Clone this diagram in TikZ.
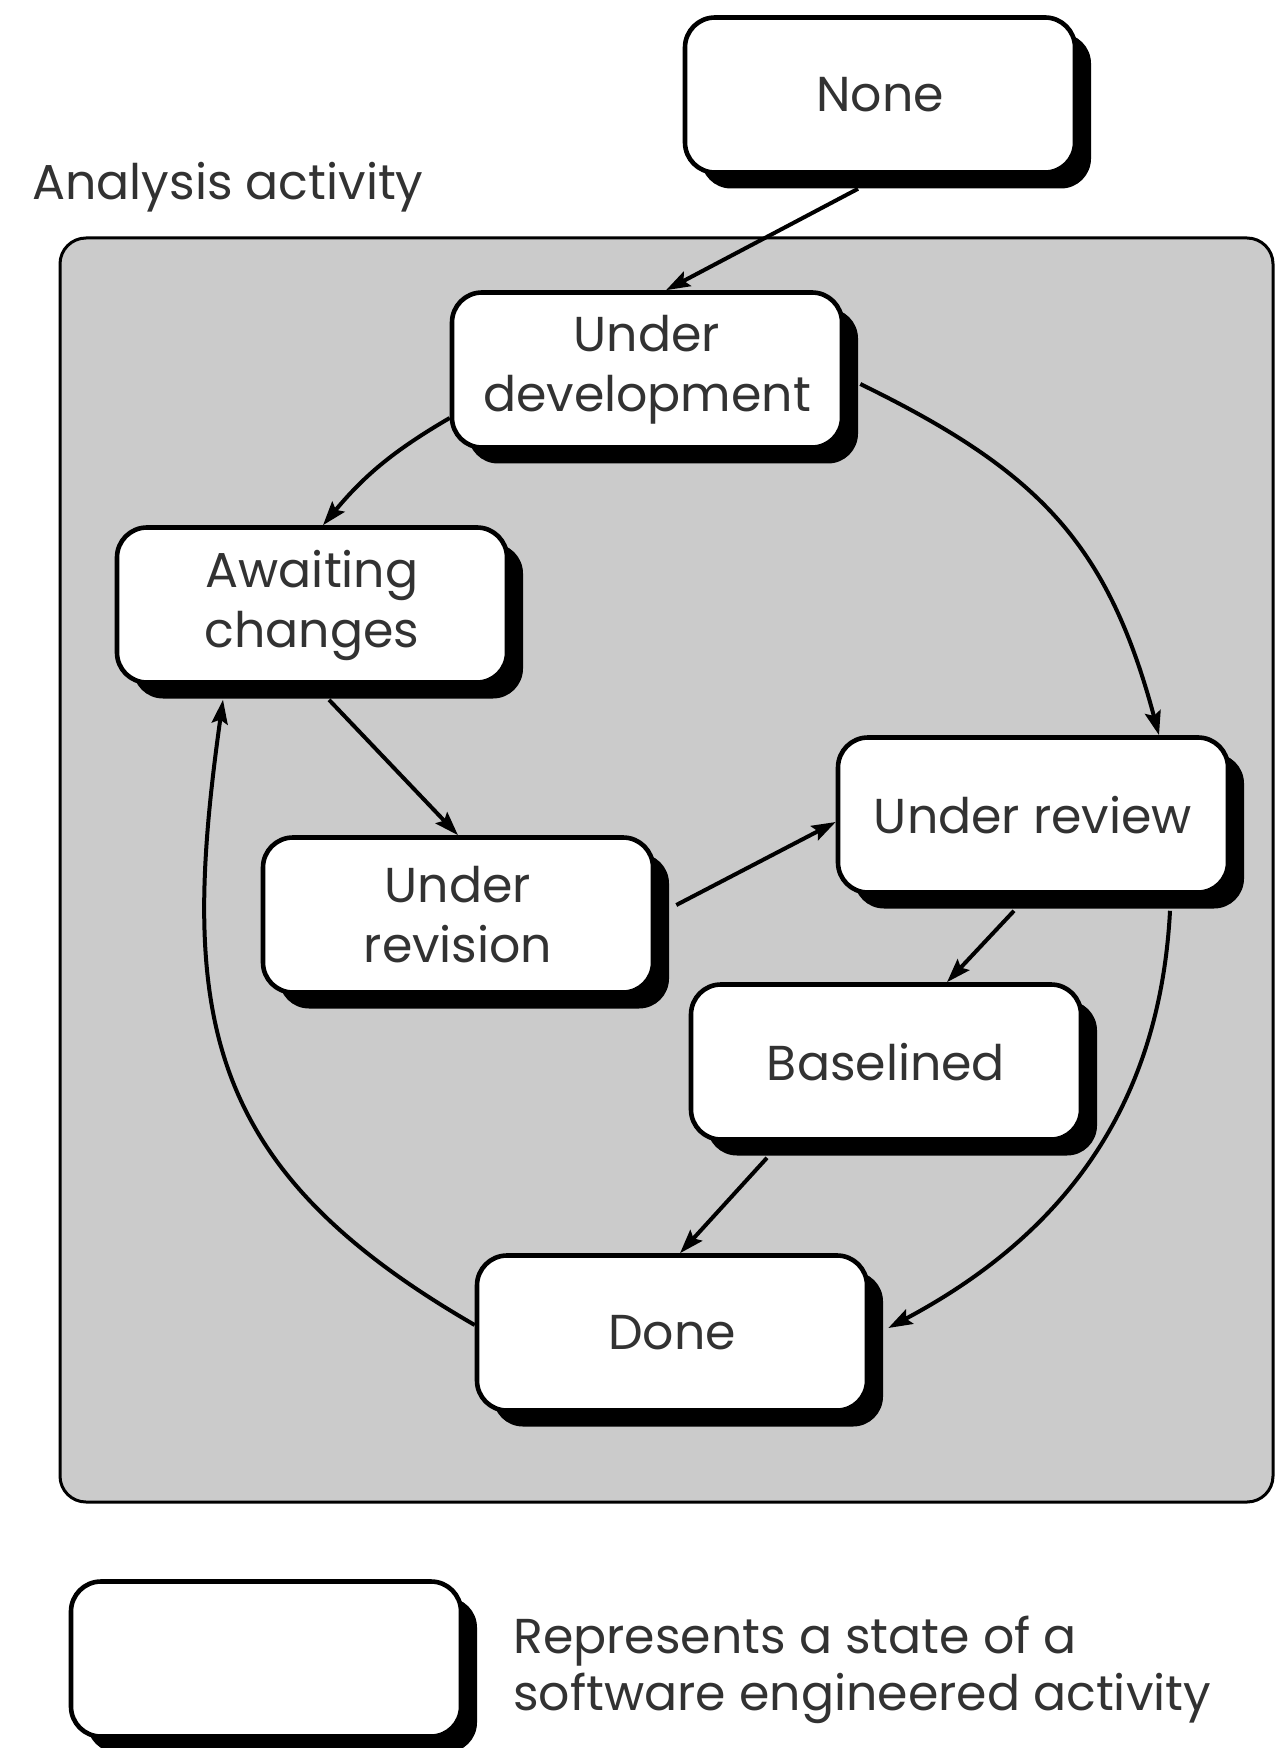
\documentclass[tikz,border=0pt]{standalone}
\usepackage{fontspec}
\setmainfont{Poppins}
\usetikzlibrary{shadows,arrows.meta}
\definecolor{panelgray}{RGB}{203,203,203}
\definecolor{textgray}{RGB}{50,50,50}
\begin{document}
\begin{tikzpicture}
		[x=0.5pt,y=0.5pt,
			statebox/.style={rectangle,rounded corners=15pt,draw,line width=2.3pt,fill=white,
				minimum width=195pt,minimum height=77.5pt,align=center,inner sep=0pt,
				text=textgray,font=\fontsize{24.5pt}{30pt}\selectfont,
				drop shadow={shadow xshift=8pt,shadow yshift=-8pt,fill=black,opacity=1}},
			trans/.style={line width=2pt,-{Stealth[length=12pt,width=8pt,inset=2pt]}},
			plaintext/.style={inner sep=0pt,text=textgray,font=\fontsize{24.5pt}{28.5pt}\selectfont}]
	\useasboundingbox (0,0) rectangle (1277,-1748);
	% activity panel
	\draw[fill=panelgray,line width=1.5pt,rounded corners=13pt] (60,-238) rectangle (1273,-1502);
	\node[plaintext,anchor=base west] (panel) at (32,-200) {Analysis activity};
	% states
	\node[statebox] (none) at (880,-95) {None};
	\node[statebox] (dev) at (647,-370) {Under\\development};
	\node[statebox] (await) at (312,-605) {Awaiting\\changes};
	\node[statebox] (revision) at (458,-915) {Under\\revision};
	\node[statebox] (review) at (1033,-815) {Under review};
	\node[statebox] (base) at (886,-1062) {Baselined};
	\node[statebox] (done) at (672,-1333) {Done};
	% transitions
	\draw[trans] ([xshift=-11pt,yshift=-7pt]none.south) -- ([xshift=9.5pt]dev.north);
	\draw[trans] ([yshift=-24pt]dev.west) to[bend right=10] ([xshift=5.5pt]await.north);
	\draw[trans] ([xshift=8pt,yshift=-7pt]dev.east) to[out=-26,in=105,looseness=1.1] ([xshift=63pt]review.north);
	\draw[trans] ([xshift=8.5pt,yshift=-7.5pt]await.south) -- (revision.north);
	\draw[trans] ([xshift=10.5pt,yshift=5pt]revision.east) -- ([yshift=-3.5pt]review.west);
	\draw[trans] ([xshift=-9.5pt,yshift=-8pt]review.south) -- ([xshift=30.5pt]base.north);
	\draw[trans] ([xshift=-59.5pt,yshift=-8pt]base.south) -- ([xshift=4pt]done.north);
	\draw[trans] ([xshift=68.5pt,yshift=-8pt]review.south) to[out=-93,in=28] ([xshift=9.5pt,yshift=2.5pt]done.east);
	\draw[trans] ([yshift=4pt]done.west) to[out=150,in=-98,looseness=1.2] ([xshift=-44.5pt,yshift=-7.5pt]await.south);
	% legend
	\node[statebox] (key) at (266,-1659) {};
	\node[plaintext,anchor=west,align=left] (keytext) at (513,-1670) {Represents a state of a\\software engineered activity};
\end{tikzpicture}
\end{document}
